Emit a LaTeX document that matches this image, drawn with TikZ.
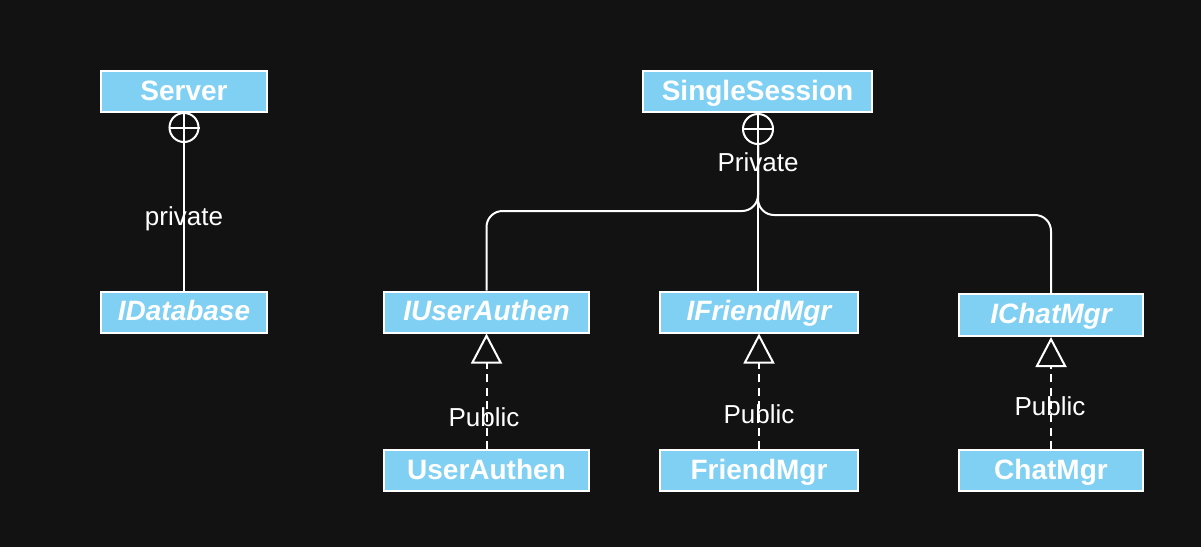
\documentclass[tikz,border=0pt]{standalone}
\usepackage{fontspec}
\setmainfont{Liberation Sans}
\usetikzlibrary{arrows.meta,calc}
\definecolor{bgc}{HTML}{121212}
\definecolor{boxblue}{HTML}{7FD0F3}
\tikzset{
  cls/.style={draw=white, fill=boxblue, line width=1.5pt, inner sep=0pt,
    minimum height=30.75pt, text height=16pt, text depth=3.2pt, text=white,
    font=\bfseries\fontsize{21}{24}\selectfont},
  icls/.style={cls, font=\bfseries\itshape\fontsize{21}{24}\selectfont},
  conn/.style={draw=white, line width=1.5pt},
  lbl/.style={text=white, inner sep=0pt, text height=14pt, text depth=0pt,
    font=\fontsize{19.5}{22}\selectfont},
  nest/.style={circle, draw=white, fill=bgc, line width=1.5pt, inner sep=0pt, minimum size=21.75pt},
  real/.style={conn, dash pattern=on 6pt off 4pt,
    -{Triangle[open, length=22.5pt, width=23.25pt, line width=1.5pt, fill=bgc]}},
}
\begin{document}
\begin{tikzpicture}[x=0.75pt, y=-0.75pt]
\fill[bgc] (0,0) rectangle (1201,547);
\useasboundingbox (0,0) rectangle (1201,547);

% nodes
\node[cls, minimum width=124.5pt] (server) at (184,91.5) {Server};
\node[icls, minimum width=124.5pt] (idb) at (184,312) {IDatabase};
\node[cls, minimum width=171.75pt] (ss) at (757.5,91.5) {SingleSession};
\node[icls, minimum width=153.75pt] (iua) at (486.5,312) {IUserAuthen};
\node[cls, minimum width=153.75pt] (ua) at (486.5,470.5) {UserAuthen};
\node[icls, minimum width=148.5pt] (ifm) at (759,312) {IFriendMgr};
\node[cls, minimum width=148.5pt] (fm) at (759,470.5) {FriendMgr};
\node[icls, minimum width=138pt, minimum height=31.5pt] (icm) at (1051,315) {IChatMgr};
\node[cls, minimum width=138pt] (cm) at (1051,470.5) {ChatMgr};

% nesting circles
\node[nest] (sc) at (184,127.5) {};
\draw[conn] (sc.west) -- (sc.east);
\node[nest, minimum size=22.5pt] (ssc) at (758,129) {};
\draw[conn] (ssc.west) -- (ssc.east);

% connectors
\draw[conn] (sc.north) -- (idb.north);
\coordinate (jl) at (758,211);
\coordinate (jr) at (758,215);
\draw[conn] (ssc.north) -- (ssc.south);
\draw[conn, rounded corners=12pt] (ssc.south) -- (jl) -| (iua.north);
\draw[conn, rounded corners=12pt] (ssc.south) -- (jr) -| (icm.north);
\draw[conn] (ssc.south) -- (ssc.south |- ifm.north);

\draw[real] (ua.north) -- (iua.south);
\draw[real] (fm.north) -- (fm.north |- ifm.south);
\draw[real] (cm.north) -- (icm.south);

% labels
\node[lbl] (lprv) at (184,216) {private};
\node[lbl] (lPrv) at (758,162) {Private};
\node[lbl] (lpub1) at (484,417) {Public};
\node[lbl] (lpub2) at (759,414) {Public};
\node[lbl] (lpub3) at (1050,406) {Public};
\end{tikzpicture}
\end{document}
